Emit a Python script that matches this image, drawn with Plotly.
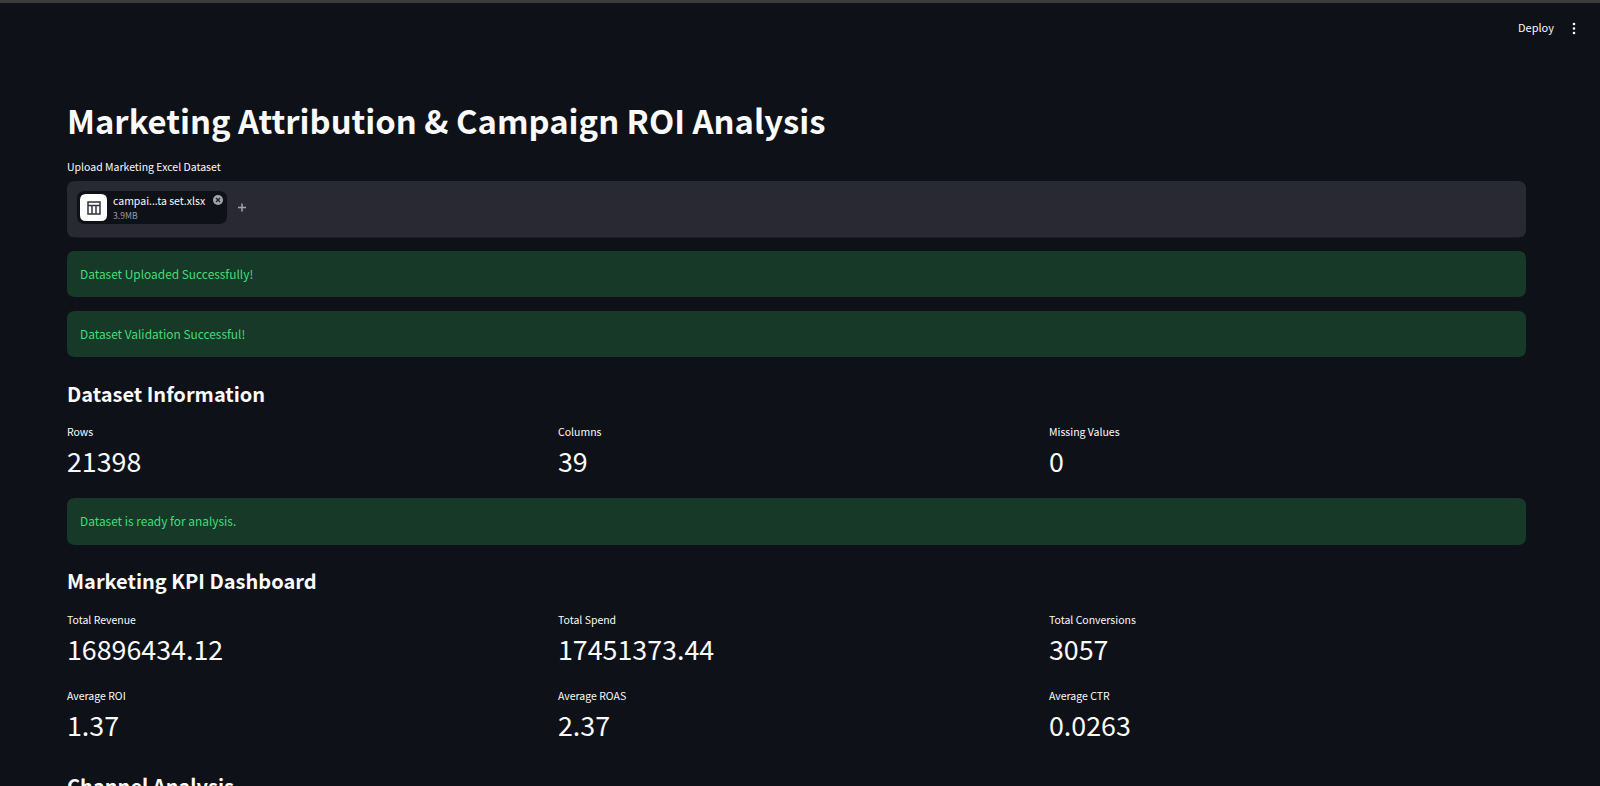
import plotly.graph_objects as go

page_title = "Marketing Attribution & Campaign ROI Analysis"
upload_label = "Upload Marketing Excel Dataset"
file_name = "campai...ta set.xlsx"
file_size = "3.9MB"
success_msgs = ["Dataset Uploaded Successfully!", "Dataset Validation Successful!", "Dataset is ready for analysis."]
headers = ["Dataset Information", "Marketing KPI Dashboard", "Channel Analysis"]

info_labels = ["Rows", "Columns", "Missing Values"]
info_values = ["21398", "39", "0"]
kpi_labels = ["Total Revenue", "Total Spend", "Total Conversions"]
kpi_values = ["16896434.12", "17451373.44", "3057"]
avg_labels = ["Average ROI", "Average ROAS", "Average CTR"]
avg_values = ["1.37", "2.37", "0.0263"]

BG = "#0e1117"
WHITE = "#fafafa"
GREEN_BG = "#173928"
GREEN_TXT = "#43de78"
FONT = "Noto Sans CJK JP"
col_x = [65.5, 556.5, 1047.5]


def rbox(x0, y0, x1, y1, r, fill):
    path = (f"M{x0+r},{y0} L{x1-r},{y0} Q{x1},{y0} {x1},{y0+r} L{x1},{y1-r} Q{x1},{y1} {x1-r},{y1} "
            f"L{x0+r},{y1} Q{x0},{y1} {x0},{y1-r} L{x0},{y0+r} Q{x0},{y0} {x0+r},{y0} Z")
    return dict(type="path", path=path, fillcolor=fill, line=dict(width=0), xref="x", yref="y", layer="below")


def seg(x0, y0, x1, y1, color, w=1.5):
    return dict(type="line", x0=x0, y0=y0, x1=x1, y1=y1, line=dict(color=color, width=w), xref="x", yref="y")


def txt(x, y, s, size, color=WHITE, weight=400, yanchor="middle", xanchor="left"):
    return dict(x=x, y=y, text=s, xref="x", yref="y", showarrow=False, xanchor=xanchor, yanchor=yanchor,
                align="left", borderpad=0, font=dict(family=FONT, size=size, color=color, weight=weight))


shapes = [
    dict(type="rect", x0=0, x1=1600, y0=0, y1=3, fillcolor="#3c3c3c", line=dict(width=0), xref="x", yref="y", layer="below"),
    rbox(67, 181, 1526, 237.5, 8, "#282933"),
    rbox(77, 191, 227, 224, 8, BG),
    rbox(80, 194, 107, 221, 6, "#ffffff"),
    rbox(67, 251, 1526, 297, 8, GREEN_BG),
    rbox(67, 311, 1526, 357, 8, GREEN_BG),
    rbox(67, 498, 1526, 545, 8, GREEN_BG),
]
# table icon
shapes += [dict(type="rect", x0=88, x1=100, y0=202, y1=214, line=dict(color="#31333f", width=1.5), xref="x", yref="y"),
           seg(88, 205.5, 100, 205.5, "#31333f"), seg(92, 205.5, 92, 214, "#31333f"), seg(96, 205.5, 96, 214, "#31333f")]
# close button
shapes += [dict(type="circle", x0=213, x1=223, y0=195, y1=205, fillcolor="#a3a5ab", line=dict(width=0), xref="x", yref="y"),
           seg(216, 198, 220, 202, "#26272f"), seg(220, 198, 216, 202, "#26272f")]
# plus
shapes += [seg(238, 207.5, 246, 207.5, "#a3a5ab"), seg(242, 203.5, 242, 211.5, "#a3a5ab")]
# menu dots
for y in (24, 28.5, 33):
    shapes.append(dict(type="circle", x0=1572.7, x1=1575.3, y0=y - 1.3, y1=y + 1.3, fillcolor=WHITE, line=dict(width=0), xref="x", yref="y"))

annots = [
    txt(1517, 26.5, "Deploy", 11),
    txt(65.5, 119.5, page_title, 32.8, weight=700),
    txt(65.5, 166, upload_label, 10.5),
    txt(112, 200, file_name, 10.5),
    txt(112, 214.5, file_size, 8.6, color="#9a9ba3"),
    txt(78.5, 273, success_msgs[0], 11.9, color=GREEN_TXT),
    txt(78.5, 333, success_msgs[1], 11.9, color=GREEN_TXT),
    txt(65.5, 393.5, headers[0], 20, weight=600),
    txt(78.5, 520, success_msgs[2], 11.9, color=GREEN_TXT),
    txt(65.5, 580.5, headers[1], 20, weight=600),
    txt(65.5, 770, headers[2], 20, weight=600, yanchor="top"),
]
for x, lab, val in zip(col_x, info_labels, info_values):
    annots += [txt(x, 431, lab, 10.5), txt(x, 460, val, 26.8)]
for x, lab, val in zip(col_x, kpi_labels, kpi_values):
    annots += [txt(x, 619, lab, 10.5), txt(x, 648, val, 26.8)]
for x, lab, val in zip(col_x, avg_labels, avg_values):
    annots += [txt(x, 695, lab, 10.5), txt(x, 724, val, 26.8)]

fig = go.Figure()
fig.update_layout(
    width=1600, height=786, margin=dict(l=0, r=0, t=0, b=0),
    paper_bgcolor=BG, plot_bgcolor=BG, showlegend=False,
    xaxis=dict(range=[0, 1600], visible=False, fixedrange=True),
    yaxis=dict(range=[786, 0], visible=False, fixedrange=True),
    shapes=shapes, annotations=annots,
)
fig.write_html("out.html", config={"displayModeBar": False},
               post_script="document.body.style.margin='0';document.body.style.overflow='hidden';document.body.style.background='#0e1117';")
